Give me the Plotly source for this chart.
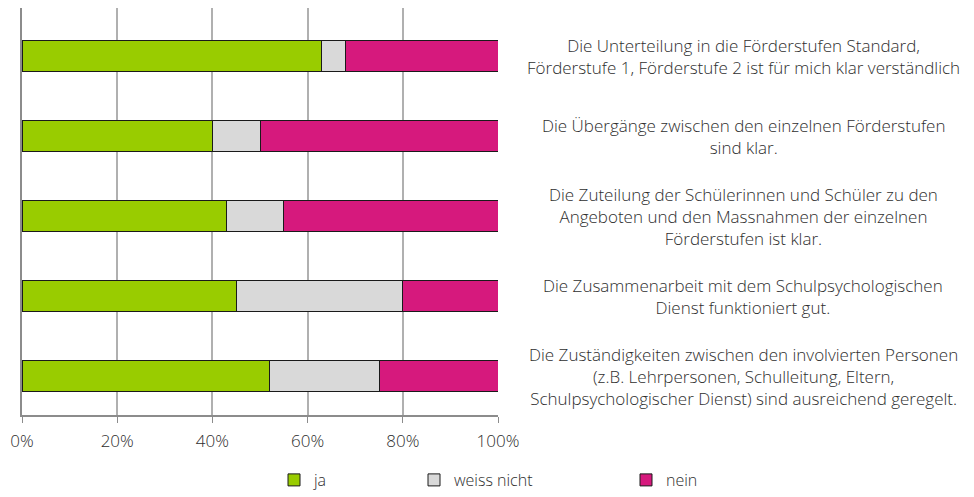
import plotly.graph_objects as go

categories = [
    "Die Unterteilung in die Förderstufen Standard,<br>Förderstufe 1, Förderstufe 2 ist für mich klar verständlich",
    "Die Übergänge zwischen den einzelnen Förderstufen<br>sind klar.",
    "Die Zuteilung der Schülerinnen und Schüler zu den<br>Angeboten und den Massnahmen der einzelnen<br>Förderstufen ist klar.",
    "Die Zusammenarbeit mit dem Schulpsychologischen<br>Dienst funktioniert gut.",
    "Die Zuständigkeiten zwischen den involvierten Personen<br>(z.B. Lehrpersonen, Schulleitung, Eltern,<br>Schulpsychologischer Dienst) sind ausreichend geregelt.",
]
ja = [63, 40, 43, 45, 52]
weiss_nicht = [5, 10, 12, 35, 23]
nein = [32, 50, 45, 20, 25]
series_names = ["ja", "weiss nicht", "nein"]
colors = ["#99CC00", "#D9D9D9", "#D6197D"]
tick_vals = [0, 20, 40, 60, 80, 100]
tick_text = ["0%", "20%", "40%", "60%", "80%", "100%"]

FONT = "Open Sans"
TXT = "#2E2E2E"
FS = 17

# page body has an 8px margin: figure spans page x 8..974, y 8..497
W, H = 966, 489
L, PW = 14, 476
PH = 407

fig = go.Figure()
ypos = list(range(len(categories)))
for name, vals, col, lg in zip(series_names, [ja, weiss_nicht, nein], colors,
                               ["legend", "legend2", "legend3"]):
    fig.add_trace(go.Bar(
        y=ypos, x=vals, name=name, orientation="h",
        marker=dict(color=col, line=dict(color="#1a1a1a", width=1)),
        width=0.39, legend=lg, showlegend=True,
    ))

for i, c in enumerate(categories):
    fig.add_annotation(
        x=(735 - L) / PW, xref="paper", y=i, yref="y", text=c, showarrow=False,
        xanchor="center", yanchor="middle", align="center",
        font=dict(family=FONT, size=FS, color=TXT, weight=300),
    )

leg_y = (PH - H) / PH
leg_common = dict(orientation="h", yanchor="bottom", xanchor="left", y=leg_y,
                  font=dict(family=FONT, size=16, color=TXT, weight=300),
                  bgcolor="rgba(0,0,0,0)", itemwidth=30, tracegroupgap=0,
                  visible=True)
fig.update_layout(
    barmode="stack",
    showlegend=True,
    width=W, height=H,
    margin=dict(l=L, r=W - L - PW, t=0, b=H - PH, autoexpand=False),
    plot_bgcolor="white", paper_bgcolor="white",
    legend=dict(x=(266 - L) / PW, **leg_common),
    legend2=dict(x=(406 - L) / PW, **leg_common),
    legend3=dict(x=(618 - L) / PW, **leg_common),
    xaxis=dict(range=[0, 100], tickvals=tick_vals, ticktext=tick_text,
               showgrid=True, gridcolor="#B0B0B0", gridwidth=1.5,
               showline=True, linecolor="#8C8C8C", linewidth=1.5,
               ticks="outside", ticklen=6, tickcolor="#8C8C8C",
               ticklabelstandoff=4,
               tickfont=dict(family=FONT, size=FS, color=TXT, weight=300),
               zeroline=False, fixedrange=True),
    yaxis=dict(range=[4.4875, -0.6], showticklabels=False, showgrid=False,
               showline=True, linecolor="#8C8C8C", linewidth=2,
               zeroline=False, fixedrange=True),
)

fig.write_html("out.html")
